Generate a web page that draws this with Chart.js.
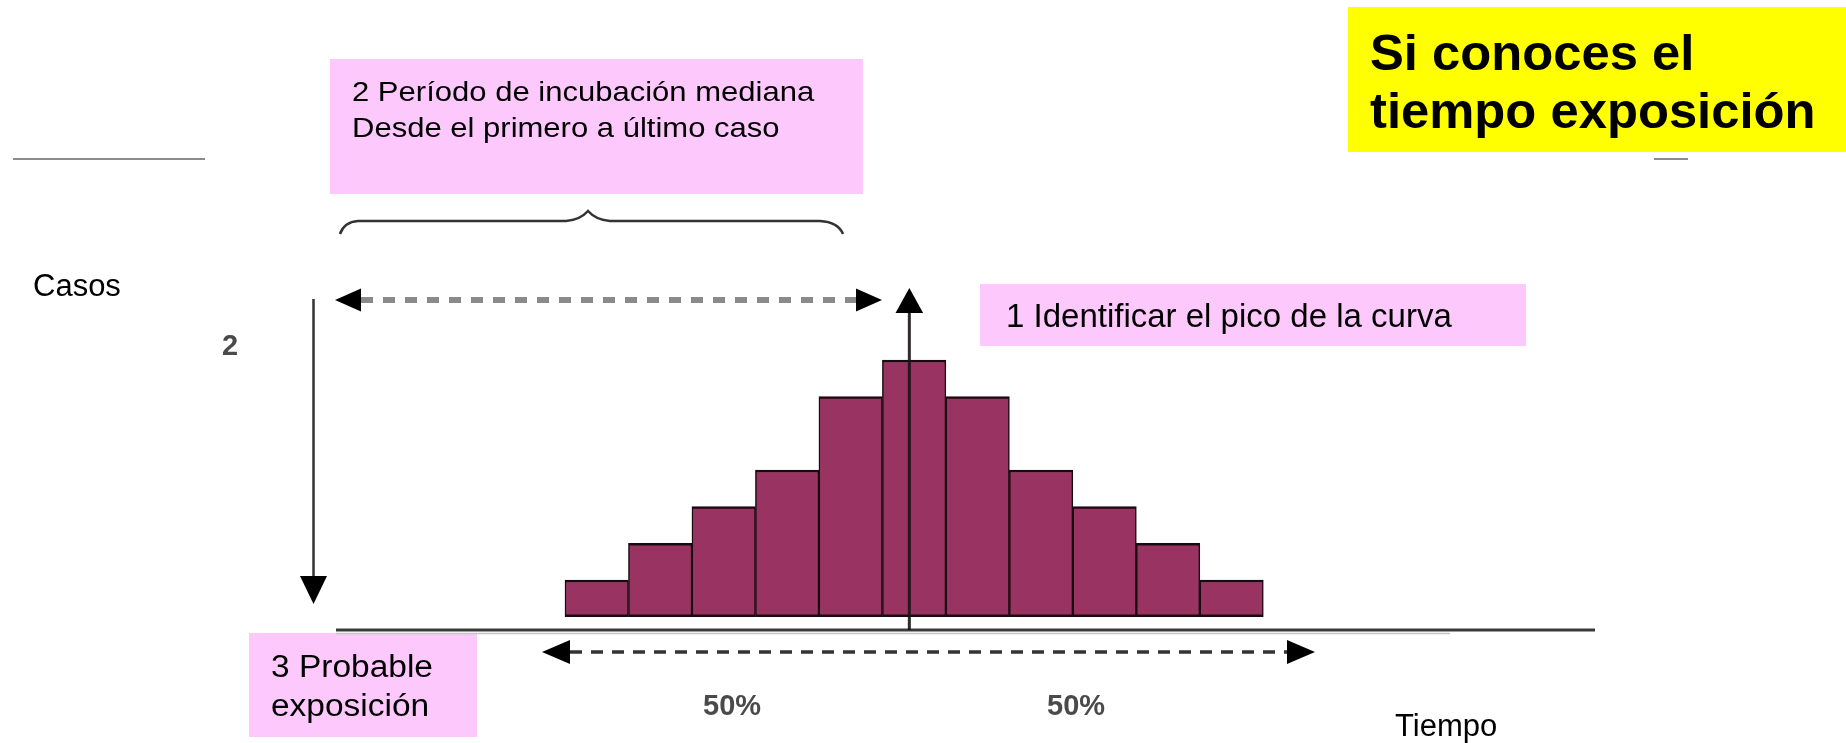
<!DOCTYPE html>
<html lang="es">
<head>
<meta charset="utf-8">
<title>Curva epidémica - tiempo de exposición</title>
<script src="https://cdn.jsdelivr.net/npm/chart.js@4.4.1/dist/chart.umd.min.js"></script>
<style>
    html, body { margin: 0; padding: 0; background: #fff; }
    #wrap { position: relative; width: 1846px; height: 743px; overflow: hidden;
        font-family: 'Liberation Sans', Arial, sans-serif; color: #000; }
    #wrap canvas { position: absolute; left: 0; top: 0; }
    .box { position: absolute; }
    .pink { background: #fdc9fd; }
    .yellow { background: #ffff00; }
    .txt { position: absolute; white-space: nowrap; line-height: 1; transform-origin: 0 0; }
</style>
</head>
<body>
<div id="wrap">
    <div class="box yellow" style="left:1348px; top:7px; width:498px; height:145px;"></div>
    <div class="box pink" style="left:330px; top:59px; width:533px; height:135px;"></div>
    <div class="box pink" style="left:980px; top:284px; width:546px; height:62px;"></div>
    <div class="box pink" style="left:249px; top:633px; width:228px; height:104px;"></div>

    <canvas id="curveChart" width="1846" height="743"></canvas>

    <div class="txt" style="left:1370px; top:28px; font-size:50px; font-weight:bold; transform:scaleX(1.015);">Si conoces el</div>
    <div class="txt" style="left:1370px; top:86px; font-size:50px; font-weight:bold; transform:scaleX(1.015);">tiempo exposición</div>

    <div class="txt" style="left:352px; top:78px; font-size:27.5px; transform:scaleX(1.128);">2 Período de incubación mediana</div>
    <div class="txt" style="left:352px; top:114px; font-size:27.5px; transform:scaleX(1.128);">Desde el primero a último caso</div>

    <div class="txt" style="left:1006px; top:299px; font-size:33px;">1 Identificar el pico de la curva</div>

    <div class="txt" style="left:271px; top:651px; font-size:31px; transform:scaleX(1.08);">3 Probable</div>
    <div class="txt" style="left:271px; top:690px; font-size:31px; transform:scaleX(1.08);">exposición</div>

    <div class="txt" style="left:33px; top:270px; font-size:31px;">Casos</div>
    <div class="txt" style="left:1395px; top:710px; font-size:31px;">Tiempo</div>
    <div class="txt" style="left:222px; top:331px; font-size:29px; font-weight:bold; color:#4a4a4a;">2</div>
    <div class="txt" style="left:703px; top:691px; font-size:29px; font-weight:bold; color:#4a4a4a;">50%</div>
    <div class="txt" style="left:1047px; top:691px; font-size:29px; font-weight:bold; color:#4a4a4a;">50%</div>
</div>

<script>
// periodos de tiempo (eje x) y casos por periodo
const periods = [1, 2, 3, 4, 5, 6, 7, 8, 9, 10, 11];
const cases = [1, 2, 3, 4, 6, 7, 6, 4, 3, 2, 1];

// rango de los ejes
const xBounds = [-3.107, 16.725];
const yBounds = [-0.363, 8.964];

function arrowHead(ctx, tipX, tipY, dirX, dirY, len, half) {
    const bx = tipX - dirX * len, by = tipY - dirY * len;
    ctx.beginPath();
    ctx.moveTo(tipX, tipY);
    ctx.lineTo(bx - dirY * half, by + dirX * half);
    ctx.lineTo(bx + dirY * half, by - dirX * half);
    ctx.closePath();
    ctx.fill();
}

function dashedArrow(ctx, x1, x2, y, color, width, dash, len, half) {
    ctx.save();
    ctx.strokeStyle = color;
    ctx.lineWidth = width;
    ctx.setLineDash(dash);
    ctx.beginPath();
    ctx.moveTo(x1 + len, y);
    ctx.lineTo(x2 - len, y);
    ctx.stroke();
    ctx.setLineDash([]);
    ctx.fillStyle = '#000';
    arrowHead(ctx, x1, y, -1, 0, len, half);
    arrowHead(ctx, x2, y, 1, 0, len, half);
    ctx.restore();
}

const annotations = {
    id: 'annotations',
    beforeDatasetsDraw(chart) {
        const { ctx, chartArea, scales: { y } } = chart;
        const baseY = y.getPixelForValue(yBounds[0]);
        ctx.save();
        // eje del tiempo
        ctx.strokeStyle = '#c4c4c4';
        ctx.lineWidth = 1.5;
        ctx.beginPath();
        ctx.moveTo(chartArea.left, baseY + 3.5);
        ctx.lineTo(1450, baseY + 3.5);
        ctx.stroke();
        ctx.strokeStyle = '#3a3a3a';
        ctx.lineWidth = 3;
        ctx.beginPath();
        ctx.moveTo(chartArea.left, baseY);
        ctx.lineTo(chartArea.right, baseY);
        ctx.stroke();
        ctx.restore();
    },
    afterDatasetsDraw(chart) {
        const { ctx, chartArea, scales: { x, y } } = chart;
        ctx.save();

        // lineas grises superiores
        ctx.strokeStyle = '#8c8c8c';
        ctx.lineWidth = 2;
        ctx.beginPath();
        ctx.moveTo(13, 159); ctx.lineTo(205, 159);
        ctx.moveTo(1654, 159); ctx.lineTo(1688, 159);
        ctx.stroke();

        // llave del periodo de incubacion
        ctx.strokeStyle = '#333';
        ctx.lineWidth = 2.5;
        ctx.beginPath();
        ctx.moveTo(340, 234);
        ctx.quadraticCurveTo(344, 222, 358, 221);
        ctx.lineTo(566, 221);
        ctx.quadraticCurveTo(580, 220, 588, 211);
        ctx.quadraticCurveTo(596, 220, 610, 221);
        ctx.lineTo(820, 221);
        ctx.quadraticCurveTo(838, 222, 843, 234);
        ctx.stroke();

        // flecha discontinua superior
        dashedArrow(ctx, 335, 882, 300, '#8a8a8a', 6, [12, 10], 26, 11.5);

        // flecha vertical izquierda
        ctx.strokeStyle = '#333';
        ctx.fillStyle = '#000';
        ctx.lineWidth = 2.5;
        ctx.beginPath();
        ctx.moveTo(313.5, 299);
        ctx.lineTo(313.5, 580);
        ctx.stroke();
        arrowHead(ctx, 313.5, 604, 0, 1, 28, 13.5);

        // flecha del pico de la curva
        const peakIdx = cases.indexOf(Math.max(...cases));
        const peakX = x.getPixelForValue(periods[peakIdx]) - 4.8;
        ctx.strokeStyle = 'rgba(25, 20, 22, 0.9)';
        ctx.lineWidth = 3;
        ctx.beginPath();
        ctx.moveTo(peakX, y.getPixelForValue(yBounds[0]));
        ctx.lineTo(peakX, chartArea.top + 20);
        ctx.stroke();
        arrowHead(ctx, peakX, chartArea.top, 0, -1, 25, 13.8);

        // flecha discontinua inferior (50% / 50%)
        dashedArrow(ctx, 542, 1315, 652, '#333', 3.5, [12, 9], 28, 12);

        ctx.restore();
    }
};

const ctx = document.getElementById('curveChart').getContext('2d');
const curveChart = new Chart(ctx, {
    type: 'bar',
    data: {
        datasets: [{
            label: 'Casos',
            data: periods.map((p, i) => ({ x: p, y: cases[i] })),
            backgroundColor: '#993362',
            borderColor: '#1a0a10',
            borderWidth: { left: 1.5, right: 1.5, top: 2.5, bottom: 2.5 },
            borderSkipped: false,
            barPercentage: 1,
            categoryPercentage: 1
        }]
    },
    options: {
        responsive: false,
        animation: false,
        layout: {
            padding: { left: 336, right: 251, top: 288, bottom: 113 }
        },
        plugins: {
            legend: { display: false },
            tooltip: { enabled: false }
        },
        scales: {
            x: {
                type: 'linear',
                display: false,
                offset: false,
                min: xBounds[0],
                max: xBounds[1]
            },
            y: {
                display: false,
                min: yBounds[0],
                max: yBounds[1]
            }
        }
    },
    plugins: [annotations]
});
</script>
</body>
</html>
